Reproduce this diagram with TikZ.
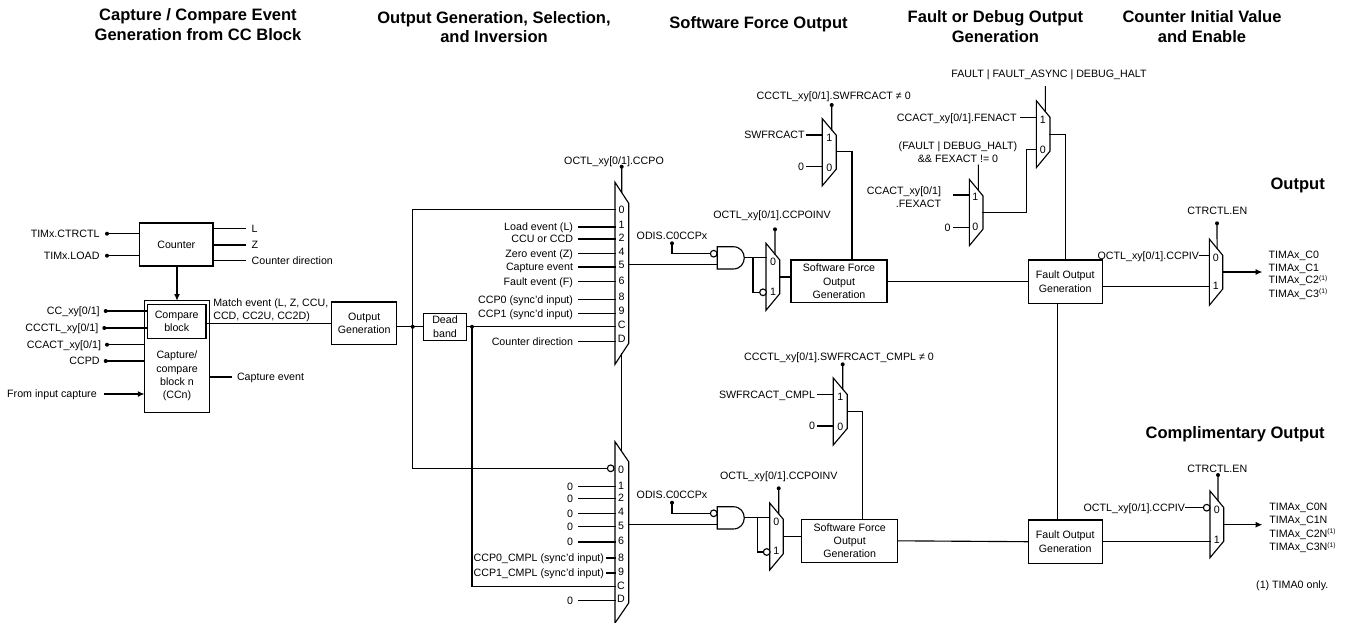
\documentclass[tikz,border=0pt]{standalone}
\usepackage{fontspec}
\setmainfont{Liberation Sans}
\usetikzlibrary{calc, positioning, arrows.meta}

\tikzset{
    wire/.style={line width=0.85pt, line cap=rect},
    sigtext/.style={font=\fontsize{8}{10}\selectfont, inner xsep=4.5pt, inner ysep=0pt, outer sep=0pt, text height=5.7pt, text depth=0pt},
    twoline/.style={font=\fontsize{8}{10}\selectfont, inner sep=0pt, outer sep=0pt, align=center},
    block/.style={draw, line width=0.85pt, font=\fontsize{8}{10}\selectfont, align=center, inner sep=0pt, outer sep=0pt},
    heading/.style={font=\fontsize{12.4}{14.6}\selectfont\bfseries, align=center, inner sep=0pt},
    pinlab/.style={font=\fontsize{8}{10}\selectfont, inner sep=0pt, text height=5.7pt, text depth=0pt},
    pindot/.style={circle, fill, inner sep=0pt, outer sep=0pt, minimum size=3pt},
    bubble/.style={circle, draw, line width=0.85pt, fill=white, inner sep=0pt, outer sep=0pt, minimum size=5pt},
    flowarrow/.style={wire, -{Latex[length=5pt,width=4.5pt]}}
}

% name, left, top, width, height, chamfer, position of select pin
\newcommand{\muxblk}[7]{
    \node[inner sep=0pt, outer sep=0pt, minimum width=#4*0.75pt, minimum height=#5*0.75pt, anchor=north west] (#1) at (#2,#3) {};
    \draw[wire, line join=miter] (#1.north west) -- ($(#1.north east)+(0,#6)$) -- ($(#1.south east)+(0,-#6)$) -- (#1.south west) -- cycle;
    \coordinate (#1-sel) at ($(#1.north west)!#7!(#1.north east)+(0,{#7*#6})$);
    \coordinate (#1-bot) at ($(#1.south west)!#7!(#1.south east)+(0,{-#7*#6})$);
}
% name, left, top
\newcommand{\andblk}[3]{
    \node[inner sep=0pt, outer sep=0pt, minimum width=27*0.75pt, minimum height=22.3*0.75pt, anchor=north west] (#1) at (#2,#3) {};
    \draw[wire] (#1.north west) -- ($(#1.north west)+(15.7,0)$) .. controls ($(#1.north west)+(30.7,0)$) and ($(#1.south west)+(30.7,0)$) .. ($(#1.south west)+(15.7,0)$) -- (#1.south west) -- cycle;
}
\newcommand{\tnote}{\raisebox{2.6pt}{\fontsize{5}{5}\selectfont (1)}}

\begin{document}
\begin{tikzpicture}[x=0.75pt, y=-0.75pt]
    \useasboundingbox (0,0) rectangle (1351,622);

    % Headings
    \node[heading] (headCapture) at (198,24.5) {Capture / Compare Event\\Generation from CC Block};
    \node[heading] (headOutGen) at (494,27) {Output Generation, Selection,\\and Inversion};
    \node[heading] (headForce) at (758.5,24) {Software Force Output};
    \node[heading] (headFault) at (995.4,26.7) {Fault or Debug Output\\Generation};
    \node[heading] (headInit) at (1202,26.7) {Counter Initial Value\\and Enable};
    \node[heading, anchor=east] (headOut) at (1325,185) {Output};
    \node[heading, anchor=east] (headComp) at (1325,434.3) {Complimentary Output};

    % Counter and capture/compare block
    \node[block, minimum width=73.5*0.75pt, minimum height=43*0.75pt] (counter) at (176.3,244.5) {Counter};
    \node[block, minimum width=65*0.75pt, minimum height=112*0.75pt] (ccBlock) at (177,356.7) {};
    \node[block, minimum width=58.7*0.75pt, minimum height=33.6*0.75pt] (cmpBlock) at (176.7,321.5) {Compare\\block};
    \node[twoline] (ccText) at (177,376) {Capture/\\compare\\block n\\(CCn)};
    \draw[flowarrow] (counter.south -| ccText) -- (ccBlock.north);

    % Counter pins
    \foreach \n/\y/\t in {A/233.7/TIMx.CTRCTL, B/255.7/TIMx.LOAD} {
        \node[sigtext, anchor=east] (cntLbl\n) at (105.5,\y) {\t};
        \node[pindot] (cntDot\n) at (107,\y) {};
        \draw[wire] (cntDot\n) -- (cntDot\n -| counter.west);
    }
    \foreach \n/\y/\t in {A/228.7/L, B/245/Z, C/260.7/Counter direction} {
        \node[sigtext, anchor=west] (cntOut\n) at (245.7,\y) {\t};
        \draw[wire] (cntOut\n.west -| counter.east) -- (cntOut\n.west);
    }

    % Capture/compare pins
    \foreach \n/\x/\y/\t in {A/105.7/311/{CC\_xy[0/1]}, B/104.3/328/{CCCTL\_xy[0/1]}} {
        \node[sigtext, anchor=east] (ccLbl\n) at (\x,\y) {\t};
        \node[pindot] (ccDot\n) at (\x,\y) {};
        \draw[wire] (ccDot\n) -- (ccDot\n -| cmpBlock.west);
    }
    \foreach \n/\x/\y/\t in {C/107/344.7/{CCACT\_xy[0/1]}, D/105.7/361/CCPD} {
        \node[sigtext, anchor=east] (ccLbl\n) at (\x,\y) {\t};
        \node[pindot] (ccDot\n) at (\x,\y) {};
        \draw[wire] (ccDot\n) -- (ccDot\n -| ccBlock.west);
    }
    \node[sigtext, anchor=east, inner xsep=6.2pt] (inCapture) at (105,394) {From input capture};
    \draw[flowarrow] (inCapture.east) -- (inCapture.east -| ccBlock.west);
    \node[sigtext, anchor=west] (capEvent) at (231,377) {Capture event};
    \draw[wire] (capEvent.west -| ccBlock.east) -- (capEvent.west);

    % Output generation and dead band
    \node[block, minimum width=65*0.75pt, minimum height=42.7*0.75pt] (outGen) at (364.2,323.4) {Output\\Generation};
    \node[block, minimum width=43.4*0.75pt, minimum height=27*0.75pt] (deadBand) at (445,326.8) {Dead\\band};
    \draw[wire] (outGen.west -| cmpBlock.east) -- (outGen.west);
    \node[twoline, anchor=west, align=left] (matchText) at (213.3,310) {Match event (L, Z, CCU,\\CCD, CC2U, CC2D)};
    \node[pindot] (juncA) at (412.7,326.8) {};
    \node[pindot] (juncB) at (472,326.8) {};
    \draw[wire] (outGen.east |- juncA) -- (deadBand.west);

    % Source select muxes
    \muxblk{muxA}{615}{182.3}{13.7}{182}{21}{0.49}
    \muxblk{muxB}{615}{441.7}{13.7}{181.3}{20}{0.49}
    \node[pindot] (ccpoDot) at (621.7,166.7) {};
    \node[sigtext] (ccpoText) at (614,160.3) {OCTL\_xy[0/1].CCPO};
    \draw[wire] (ccpoDot) -- (muxA-sel);
    \draw[wire] (muxA-bot) -- (muxB-sel);
    \foreach \n/\y/\t in {1/227/Load event (L), 2/239/CCU or CCD, 4/253.3/Zero event (Z), 5/267/Capture event,
                          6/281.7/Fault event (F), 8/299.7/CCP0 (sync'd input), 9/313.7/CCP1 (sync'd input),
                          D/341.3/Counter direction} {
        \node[sigtext, anchor=east] (muxAin\n) at (579,\y) {\t};
        \draw[wire] (muxAin\n.east) -- (muxAin\n.east -| muxA.west);
    }
    \foreach \n/\y in {0/210, 1/224.7, 2/238, 4/252, 5/265, 6/281, 8/296.7, 9/310.7, C/325, D/339} {
        \node[pinlab] (muxApin\n) at (621.7,\y) {\n};
    }
    \foreach \n/\y in {1/486.3, 2/498.7, 4/513.3, 5/526.3, 6/542, D/600.3} {
        \node[sigtext, anchor=east] (muxBin\n) at (579,\y) {0};
        \draw[wire] (muxBin\n.east) -- (muxBin\n.east -| muxB.west);
    }
    \foreach \n/\y/\t in {8/558/CCP0\_CMPL (sync'd input), 9/573/CCP1\_CMPL (sync'd input)} {
        \node[sigtext, anchor=east, inner xsep=2pt] (muxBin\n) at (606.7,\y) {\t};
        \draw[wire] (muxBin\n.east) -- (muxBin\n.east -| muxB.west);
    }
    \foreach \n/\y in {0/470, 1/485.3, 2/497.3, 4/511.7, 5/525.7, 6/540.3, 8/557.3, 9/571.7, C/585.3, D/599} {
        \node[pinlab] (muxBpin\n) at (621,\y) {\n};
    }
    \node[bubble] (bubB) at (610.7,468.3) {};
    \coordinate (muxAin0) at (615,209.3);
    \coordinate (muxBinC) at (615,586.7);
    \draw[wire] (juncA) |- (muxAin0);
    \draw[wire] (juncA) |- (bubB.west);
    \draw[wire] (deadBand.east) -- (deadBand.east -| muxA.west);
    \draw[wire] (juncB) |- (muxBinC);

    % Upper path: output disable gate and inversion
    \andblk{gateA}{717.3}{246.7}
    \node[bubble] (bubGateA) at (713.7,253.7) {};
    \node[pindot] (odisDotA) at (672,243.3) {};
    \node[sigtext, above=1.5pt of odisDotA] (odisTextA) {ODIS.C0CCPx};
    \draw[wire] (odisDotA) |- (bubGateA.west);
    \coordinate (gateAin) at (717.3,264.7);
    \draw[wire] (gateAin -| muxA.east) -- (gateAin);
    \muxblk{muxC}{766}{243.3}{13.7}{67}{16.6}{0.66}
    \node[pinlab] (muxCpin0) at (773,261.7) {0};
    \node[pinlab] (muxCpin1) at (773,291.3) {1};
    \node[pindot] (invDotA) at (775,229.3) {};
    \node[sigtext] (invTextA) at (772,215) {OCTL\_xy[0/1].CCPOINV};
    \draw[wire] (invDotA) -- (muxC-sel);
    \draw[wire] (gateA.east) -- (gateA.east -| muxC.west);
    \coordinate (branchA) at (753,257.8);
    \node[bubble] (bubMuxC) at (763,292.3) {};
    \draw[wire] (branchA) |- (bubMuxC.west);

    % Upper path: software force
    \node[block, minimum width=96*0.75pt, minimum height=42.7*0.75pt] (sfA) at (839,281.3) {Software Force\\Output\\Generation};
    \coordinate (sfAin) at (791,277);
    \draw[wire] (sfAin -| muxC.east) -- (sfAin);
    \muxblk{muxD}{822.3}{118.7}{14}{67}{16.6}{0.67}
    \node[pinlab] (muxDpin1) at (829.3,137.3) {1};
    \node[pinlab] (muxDpin0) at (829.3,167.3) {0};
    \node[pindot] (forceDotA) at (831.7,105) {};
    \node[sigtext] (forceTextA) at (833.7,96) {CCCTL\_xy[0/1].SWFRCACT ≠ 0};
    \draw[wire] (forceDotA) -- (muxD-sel);
    \node[sigtext, anchor=east, inner xsep=1.5pt] (swfrA) at (806.7,135) {SWFRCACT};
    \node[sigtext, anchor=east, inner xsep=2pt] (zeroA) at (806.7,166.3) {0};
    \draw[wire] (swfrA.east) -- (swfrA.east -| muxD.west);
    \draw[wire] (zeroA.east) -- (zeroA.east -| muxD.west);
    \coordinate (muxDout) at (852,151.7);
    \draw[wire] (muxDout -| muxD.east) -- (muxDout) -- (muxDout |- sfA.north);

    % Upper path: fault
    \node[block, minimum width=74.3*0.75pt, minimum height=43.3*0.75pt] (faultA) at (1065.2,281.7) {Fault Output\\Generation};
    \draw[wire] (sfA.east) -- (sfA.east -| faultA.west);
    \muxblk{muxG}{1036.3}{100.7}{13.7}{67}{16.6}{0.66}
    \muxblk{muxH}{969.3}{179.3}{13.7}{66.4}{16.6}{0.66}
    \foreach \m/\x/\a/\b in {G/1042.7/119.3/149.3, H/975.3/196.3/226.7} {
        \node[pinlab] (mux\m pin1) at (\x,\a) {1};
        \node[pinlab] (mux\m pin0) at (\x,\b) {0};
    }
    \node[sigtext] (faultText) at (1049,73.3) {FAULT | FAULT\_ASYNC | DEBUG\_HALT};
    \coordinate (faultTop) at (1045.3,86.7);
    \draw[wire] (faultTop) -- (muxG-sel);
    \node[sigtext, anchor=east, inner xsep=2.7pt] (fenact) at (1020.3,117.3) {CCACT\_xy[0/1].FENACT};
    \draw[wire] (fenact.east) -- (fenact.east -| muxG.west);
    \node[twoline] (fexactCond) at (958,152) {(FAULT | DEBUG\_HALT)\\\&\& FEXACT != 0};
    \coordinate (condTop) at (978.3,165.3);
    \draw[wire] (condTop) -- (muxH-sel);
    \node[twoline, anchor=east, align=right] (fexactText) at (941,197.5) {CCACT\_xy[0/1]\\.FEXACT};
    \coordinate (fexactIn) at (953.3,195);
    \draw[wire] (fexactIn) -- (fexactIn -| muxH.west);
    \node[sigtext, anchor=east, inner xsep=2pt] (zeroH) at (953.3,227.3) {0};
    \draw[wire] (zeroH.east) -- (zeroH.east -| muxH.west);
    \coordinate (muxGin) at (1036.3,149.3);
    \coordinate (muxHout) at (1026.7,212.7);
    \draw[wire] (muxHout -| muxH.east) -- (muxHout) |- (muxGin);
    \coordinate (muxGout) at (1065.3,134.3);
    \draw[wire] (muxGout -| muxG.east) -- (muxGout) -- (muxGout |- faultA.north);

    % Upper path: output enable
    \muxblk{muxI}{1209.3}{239}{13.4}{66.3}{16.3}{0.58}
    \node[pinlab] (muxIpin0) at (1215.7,257.3) {0};
    \node[pinlab] (muxIpin1) at (1215.7,286) {1};
    \node[pindot] (enDotA) at (1217,223.3) {};
    \node[sigtext] (enTextA) at (1217.3,211) {CTRCTL.EN};
    \draw[wire] (enDotA) -- (muxI-sel);
    \node[sigtext, anchor=east, inner xsep=0.75pt] (pivA) at (1200,255.7) {OCTL\_xy[0/1].CCPIV};
    \draw[wire] (pivA.east) -- (pivA.east -| muxI.west);
    \coordinate (faultAout) at (1102.3,286.7);
    \draw[wire] (faultAout) -- (faultAout -| muxI.west);
    \coordinate (outA) at (1262.3,272);
    \draw[flowarrow] (outA -| muxI.east) -- (outA);
    \foreach \n/\y/\t in {0/254.3/TIMAx\_C0, 1/267.3/TIMAx\_C1, 2/280/TIMAx\_C2\tnote, 3/293.3/TIMAx\_C3\tnote} {
        \node[sigtext, anchor=west, inner xsep=0pt] (timaC\n) at (1268.7,\y) {\t};
    }

    % Lower path: output disable gate and inversion
    \andblk{gateB}{717.3}{506.7}
    \node[bubble] (bubGateB) at (713.7,513.3) {};
    \node[pindot] (odisDotB) at (672,502.7) {};
    \node[sigtext, above=1.5pt of odisDotB] (odisTextB) {ODIS.C0CCPx};
    \draw[wire] (odisDotB) |- (bubGateB.west);
    \coordinate (gateBin) at (717.3,524.3);
    \draw[wire] (gateBin -| muxB.east) -- (gateBin);
    \muxblk{muxE}{769.7}{503}{13.6}{67}{16.3}{0.66}
    \node[pinlab] (muxEpin0) at (776.3,521.3) {0};
    \node[pinlab] (muxEpin1) at (776.3,551) {1};
    \node[pindot] (invDotB) at (778.7,488.3) {};
    \node[sigtext] (invTextB) at (778.7,476) {OCTL\_xy[0/1].CCPOINV};
    \draw[wire] (invDotB) -- (muxE-sel);
    \draw[wire] (gateB.east) -- (gateB.east -| muxE.west);
    \coordinate (branchB) at (757.3,517.8);
    \node[bubble] (bubMuxE) at (766.7,552) {};
    \draw[wire] (branchB) |- (bubMuxE.west);

    % Lower path: software force
    \node[block, minimum width=96*0.75pt, minimum height=43*0.75pt] (sfB) at (849.7,540.8) {Software Force\\Output\\Generation};
    \coordinate (sfBin) at (801.7,536.7);
    \draw[wire] (sfBin -| muxE.east) -- (sfBin);
    \muxblk{muxF}{833.3}{378}{14}{67}{16.6}{0.67}
    \node[pinlab] (muxFpin1) at (840.3,396.3) {1};
    \node[pinlab] (muxFpin0) at (840.3,426.3) {0};
    \node[pindot] (forceDotB) at (842.7,364.3) {};
    \node[sigtext] (forceTextB) at (839,356.3) {CCCTL\_xy[0/1].SWFRCACT\_CMPL ≠ 0};
    \draw[wire] (forceDotB) -- (muxF-sel);
    \node[sigtext, anchor=east, inner xsep=2pt] (swfrB) at (817.7,394.7) {SWFRCACT\_CMPL};
    \node[sigtext, anchor=east, inner xsep=2pt] (zeroB) at (817.7,426) {0};
    \draw[wire] (swfrB.east) -- (swfrB.east -| muxF.west);
    \draw[wire] (zeroB.east) -- (zeroB.east -| muxF.west);
    \coordinate (muxFout) at (862.3,411.3);
    \draw[wire] (muxFout -| muxF.east) -- (muxFout) -- (muxFout |- sfB.north);

    % Lower path: fault and output enable
    \node[block, minimum width=74.3*0.75pt, minimum height=43.3*0.75pt] (faultB) at (1065.2,541.7) {Fault Output\\Generation};
    \draw[wire] (sfB.east) -- (faultB.west);
    \coordinate (faultLink) at (1057.7,303.3);
    \draw[wire] (faultLink) -- (faultLink |- faultB.north);
    \muxblk{muxJ}{1210}{491}{13.7}{66.7}{16.5}{0.58}
    \node[pinlab] (muxJpin0) at (1216.7,509.3) {0};
    \node[pinlab] (muxJpin1) at (1216.7,539.3) {1};
    \node[pindot] (enDotB) at (1218,475) {};
    \node[sigtext] (enTextB) at (1217.3,469) {CTRCTL.EN};
    \draw[wire] (enDotB) -- (muxJ-sel);
    \node[bubble] (bubMuxJ) at (1206.7,507.7) {};
    \node[sigtext, anchor=east, inner xsep=0.5pt] (pivB) at (1185.7,507.7) {OCTL\_xy[0/1].CCPIV};
    \draw[wire] (pivB.east) -- (bubMuxJ.west);
    \draw[wire] (faultB.east) -- (faultB.east -| muxJ.west);
    \coordinate (outB) at (1262.3,524.7);
    \draw[flowarrow] (outB -| muxJ.east) -- (outB);
    \foreach \n/\y/\t in {0/506.7/TIMAx\_C0N, 1/520/TIMAx\_C1N, 2/533.3/TIMAx\_C2N\tnote, 3/547/TIMAx\_C3N\tnote} {
        \node[sigtext, anchor=west, inner xsep=0pt] (timaN\n) at (1269.3,\y) {\t};
    }
    \node[sigtext, anchor=east, inner xsep=0pt] (noteText) at (1328.3,584.7) {(1) TIMA0 only.};
\end{tikzpicture}
\end{document}
